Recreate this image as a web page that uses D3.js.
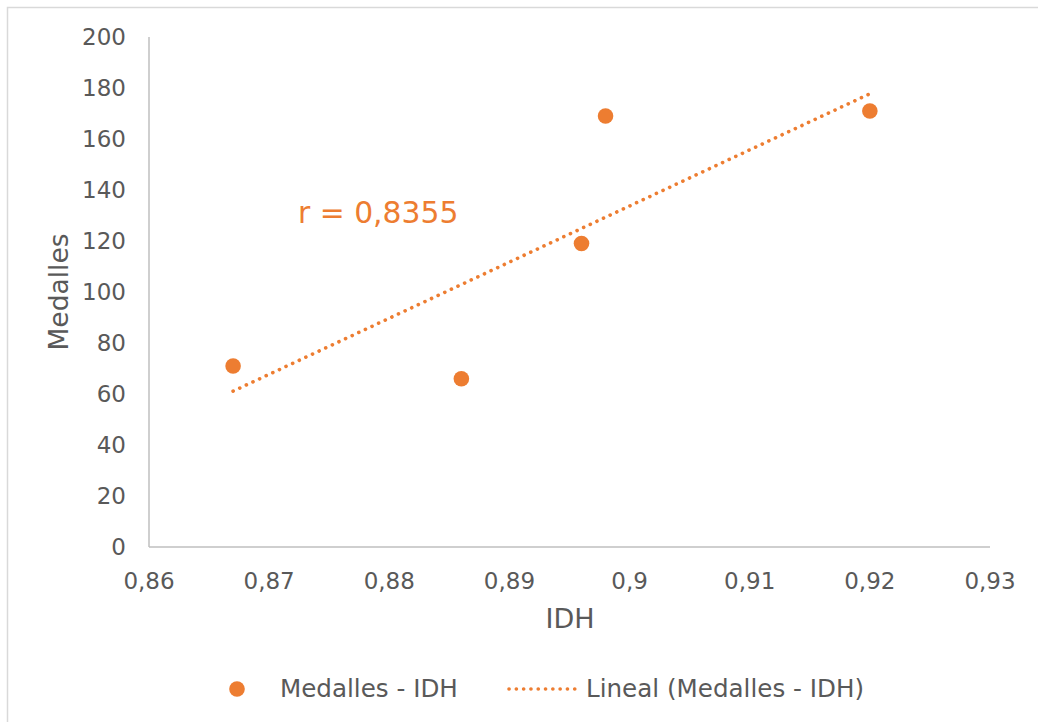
<!DOCTYPE html>
<html><head><meta charset="utf-8">
<script src="https://cdn.jsdelivr.net/npm/d3@7"></script>
<style>body{margin:0;background:#fff}svg{display:block;font-family:"DejaVu Sans",Verdana,sans-serif}</style>
</head><body>
<svg id="c" width="1038" height="722"></svg>
<script>
const idh = [0.867, 0.886, 0.896, 0.898, 0.920];
const medalles = [71, 66, 119, 169, 171];
const xTicks = [0.86, 0.87, 0.88, 0.89, 0.90, 0.91, 0.92, 0.93];
const yTicks = [0, 20, 40, 60, 80, 100, 120, 140, 160, 180, 200];
const rLabel = "r = 0,8355";
const seriesName = "Medalles - IDH";
const trendName = "Lineal (Medalles - IDH)";
const color = "#ED7D31";
const textColor = "#595959";

const svg = d3.select("#c");
svg.append("rect").attr("x",7.5).attr("y",7.5).attr("width",1040).attr("height",730)
  .attr("fill","#fff").attr("stroke","#d9d9d9").attr("stroke-width",1.5);

const x = d3.scaleLinear().domain([0.86,0.93]).range([149,990]);
const y = d3.scaleLinear().domain([0,200]).range([547,37]);
const fmt = d => String(+d.toFixed(2)).replace(".", ",");

const g = svg.append("g");
g.append("line").attr("x1",x(0.86)).attr("x2",x(0.93)).attr("y1",y(0)).attr("y2",y(0)).attr("stroke","#bfbfbf").attr("stroke-width",1.5);
g.append("line").attr("x1",x(0.86)).attr("x2",x(0.86)).attr("y1",y(0)).attr("y2",y(200)).attr("stroke","#bfbfbf").attr("stroke-width",1.5);

g.selectAll(".yt").data(yTicks).join("text").attr("x",126).attr("y",d=>y(d)+8)
  .attr("text-anchor","end").attr("font-size",23).attr("fill",textColor).text(d=>d);
g.selectAll(".xt").data(xTicks).join("text").attr("x",d=>x(d)).attr("y",589)
  .attr("text-anchor","middle").attr("font-size",23).attr("fill",textColor).text(fmt);

svg.append("text").attr("x",570).attr("y",628).attr("text-anchor","middle").attr("font-size",27).attr("fill",textColor).text("IDH");
svg.append("text").attr("transform","translate(68,292) rotate(-90)").attr("text-anchor","middle").attr("font-size",26.5).attr("fill",textColor).text("Medalles");

// linear trend line (least squares from data)
const mx = d3.mean(idh), my = d3.mean(medalles);
let sxy=0,sxx=0;
idh.forEach((v,i)=>{sxy+=(v-mx)*(medalles[i]-my); sxx+=(v-mx)*(v-mx);});
const slope = sxy/sxx, icpt = my - slope*mx;
const x0 = d3.min(idh), x1 = d3.max(idh);
svg.append("line").attr("x1",x(x0)).attr("y1",y(icpt+slope*x0)).attr("x2",x(x1)).attr("y2",y(icpt+slope*x1))
  .attr("stroke",color).attr("stroke-width",3.6).attr("stroke-linecap","round").attr("stroke-dasharray","0.1 7.2");

svg.selectAll(".pt").data(idh.map((v,i)=>[v,medalles[i]])).join("circle")
  .attr("cx",d=>x(d[0])).attr("cy",d=>y(d[1])).attr("r",7.8).attr("fill",color);

svg.append("text").attr("x",298).attr("y",223).attr("font-size",29.8).attr("fill",color).text(rLabel);

const lg = svg.append("g");
lg.append("circle").attr("cx",237).attr("cy",689).attr("r",7.8).attr("fill",color);
lg.append("text").attr("x",280).attr("y",697).attr("font-size",24.6).attr("fill",textColor).text(seriesName);
lg.append("line").attr("x1",509).attr("x2",577).attr("y1",689).attr("y2",689)
  .attr("stroke",color).attr("stroke-width",3.6).attr("stroke-linecap","round").attr("stroke-dasharray","0.1 7.2");
lg.append("text").attr("x",586).attr("y",697).attr("font-size",24.6).attr("fill",textColor).text(trendName);
</script>
</body></html>
